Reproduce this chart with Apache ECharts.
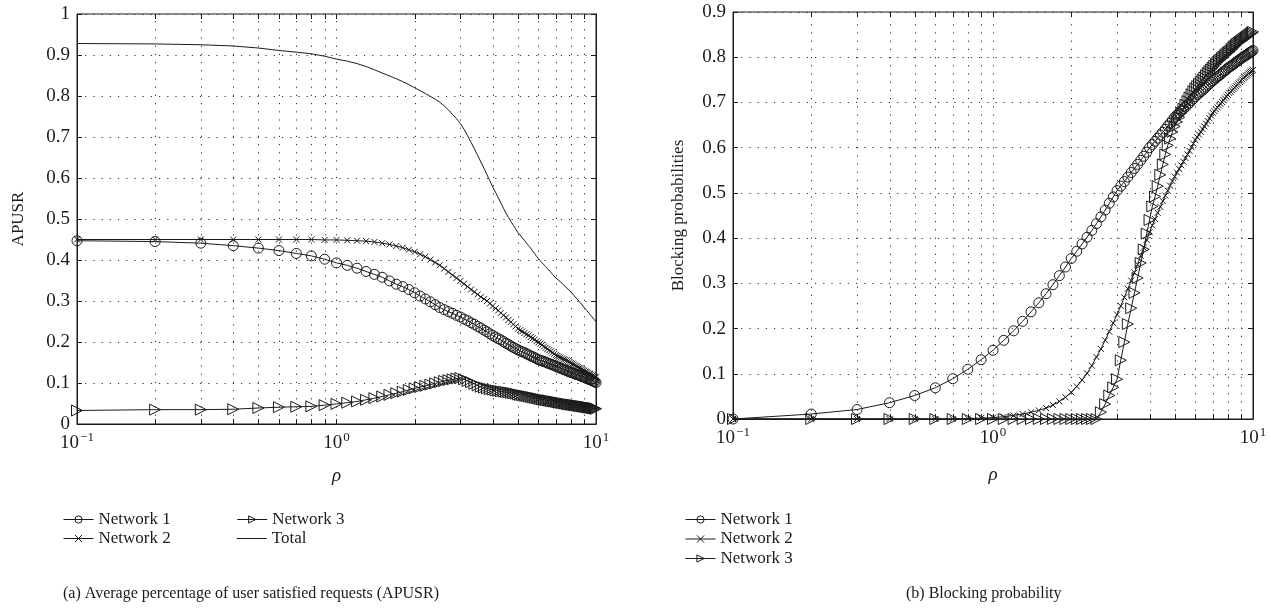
<!DOCTYPE html>
<html>
<head>
<meta charset="utf-8">
<script src="https://cdn.jsdelivr.net/npm/echarts@6/dist/echarts.min.js"></script>
<style>
  html, body { margin: 0; padding: 0; background: #fff; }
  #chart { width: 1271px; height: 615px; }
</style>
</head>
<body>
<div id="chart"></div>
<script>
// Traffic load values (rho) shared by every curve
const rho = [
  0.1, 0.2, 0.3, 0.4, 0.5, 0.6, 0.7, 0.8, 0.9, 1.0,
  1.1, 1.2, 1.3, 1.4, 1.5, 1.6, 1.7, 1.8, 1.9, 2.0,
  2.1, 2.2, 2.3, 2.4, 2.5, 2.6, 2.7, 2.8, 2.9, 3.0,
  3.1, 3.2, 3.3, 3.4, 3.5, 3.6, 3.7, 3.8, 3.9, 4.0,
  4.1, 4.2, 4.3, 4.4, 4.5, 4.6, 4.7, 4.8, 4.9, 5.0,
  5.1, 5.2, 5.3, 5.4, 5.5, 5.6, 5.7, 5.8, 5.9, 6.0,
  6.1, 6.2, 6.3, 6.4, 6.5, 6.6, 6.7, 6.8, 6.9, 7.0,
  7.1, 7.2, 7.3, 7.4, 7.5, 7.6, 7.7, 7.8, 7.9, 8.0,
  8.1, 8.2, 8.3, 8.4, 8.5, 8.6, 8.7, 8.8, 8.9, 9.0,
  9.1, 9.2, 9.3, 9.4, 9.5, 9.6, 9.7, 9.8, 9.9, 10.0
];

// (a) APUSR per network and in total
const apusrNet1 = [
  0.447, 0.445, 0.441, 0.435, 0.429, 0.423, 0.416, 0.410, 0.402, 0.393,
  0.387, 0.380, 0.372, 0.365, 0.358, 0.349, 0.341, 0.335, 0.328, 0.320,
  0.312, 0.305, 0.298, 0.291, 0.284, 0.279, 0.274, 0.270, 0.265, 0.261,
  0.256, 0.252, 0.247, 0.243, 0.238, 0.234, 0.229, 0.225, 0.220, 0.216,
  0.212, 0.208, 0.205, 0.201, 0.197, 0.194, 0.190, 0.187, 0.184, 0.181,
  0.178, 0.176, 0.174, 0.171, 0.169, 0.166, 0.164, 0.162, 0.159, 0.157,
  0.155, 0.154, 0.152, 0.151, 0.149, 0.147, 0.146, 0.144, 0.143, 0.141,
  0.139, 0.138, 0.136, 0.135, 0.133, 0.132, 0.130, 0.129, 0.127, 0.126,
  0.125, 0.124, 0.122, 0.121, 0.120, 0.119, 0.118, 0.116, 0.115, 0.114,
  0.113, 0.111, 0.110, 0.109, 0.108, 0.107, 0.105, 0.104, 0.103, 0.101
];
const apusrNet2 = [
  0.450, 0.450, 0.450, 0.450, 0.450, 0.450, 0.450, 0.450, 0.449, 0.449,
  0.448, 0.447, 0.446, 0.444, 0.441, 0.438, 0.434, 0.430, 0.425, 0.420,
  0.414, 0.408, 0.401, 0.394, 0.387, 0.379, 0.371, 0.363, 0.356, 0.349,
  0.342, 0.335, 0.328, 0.322, 0.316, 0.310, 0.305, 0.300, 0.294, 0.288,
  0.282, 0.277, 0.271, 0.265, 0.260, 0.254, 0.249, 0.243, 0.238, 0.232,
  0.229, 0.226, 0.222, 0.219, 0.216, 0.212, 0.209, 0.206, 0.202, 0.199,
  0.196, 0.193, 0.189, 0.186, 0.183, 0.180, 0.177, 0.174, 0.171, 0.168,
  0.166, 0.164, 0.162, 0.160, 0.158, 0.157, 0.155, 0.153, 0.151, 0.149,
  0.147, 0.145, 0.143, 0.141, 0.139, 0.137, 0.136, 0.134, 0.132, 0.130,
  0.128, 0.127, 0.125, 0.123, 0.122, 0.120, 0.118, 0.117, 0.115, 0.114
];
const apusrNet3 = [
  0.033, 0.035, 0.035, 0.036, 0.039, 0.041, 0.042, 0.043, 0.046, 0.049,
  0.052, 0.055, 0.059, 0.063, 0.067, 0.071, 0.075, 0.079, 0.083, 0.087,
  0.090, 0.093, 0.096, 0.099, 0.102, 0.105, 0.107, 0.109, 0.111, 0.112,
  0.109, 0.105, 0.102, 0.098, 0.094, 0.091, 0.089, 0.087, 0.085, 0.084,
  0.082, 0.081, 0.080, 0.079, 0.078, 0.077, 0.076, 0.075, 0.074, 0.072,
  0.071, 0.070, 0.069, 0.068, 0.067, 0.066, 0.065, 0.064, 0.063, 0.062,
  0.061, 0.060, 0.059, 0.058, 0.058, 0.057, 0.056, 0.055, 0.055, 0.054,
  0.053, 0.052, 0.052, 0.051, 0.050, 0.050, 0.049, 0.048, 0.048, 0.047,
  0.047, 0.046, 0.046, 0.045, 0.045, 0.044, 0.044, 0.043, 0.043, 0.042,
  0.042, 0.041, 0.041, 0.040, 0.040, 0.039, 0.039, 0.038, 0.038, 0.037
];
const apusrTotal = [
  0.928, 0.927, 0.925, 0.922, 0.917, 0.911, 0.907, 0.903, 0.897, 0.890,
  0.885, 0.879, 0.872, 0.864, 0.856, 0.849, 0.842, 0.835, 0.828, 0.820,
  0.813, 0.806, 0.799, 0.792, 0.785, 0.776, 0.766, 0.755, 0.745, 0.733,
  0.719, 0.703, 0.687, 0.671, 0.655, 0.639, 0.624, 0.608, 0.593, 0.578,
  0.565, 0.552, 0.539, 0.526, 0.514, 0.504, 0.494, 0.485, 0.476, 0.467,
  0.461, 0.454, 0.448, 0.441, 0.435, 0.429, 0.422, 0.416, 0.409, 0.403,
  0.398, 0.393, 0.389, 0.384, 0.379, 0.375, 0.370, 0.365, 0.361, 0.356,
  0.353, 0.350, 0.346, 0.343, 0.340, 0.336, 0.333, 0.329, 0.326, 0.322,
  0.318, 0.314, 0.311, 0.307, 0.303, 0.299, 0.295, 0.292, 0.288, 0.284,
  0.280, 0.277, 0.273, 0.270, 0.266, 0.263, 0.259, 0.256, 0.252, 0.249
];

// (b) Blocking probability per network
const blockNet1 = [
  0.000, 0.011, 0.021, 0.036, 0.052, 0.069, 0.089, 0.110, 0.131, 0.152,
  0.174, 0.195, 0.216, 0.237, 0.257, 0.277, 0.297, 0.317, 0.336, 0.355,
  0.371, 0.387, 0.402, 0.417, 0.432, 0.447, 0.462, 0.477, 0.491, 0.505,
  0.515, 0.525, 0.535, 0.545, 0.554, 0.563, 0.572, 0.581, 0.590, 0.600,
  0.607, 0.614, 0.621, 0.628, 0.634, 0.641, 0.648, 0.654, 0.661, 0.667,
  0.672, 0.677, 0.681, 0.686, 0.690, 0.695, 0.699, 0.704, 0.708, 0.713,
  0.717, 0.720, 0.724, 0.727, 0.731, 0.734, 0.738, 0.741, 0.745, 0.748,
  0.751, 0.754, 0.757, 0.759, 0.762, 0.765, 0.768, 0.770, 0.773, 0.776,
  0.778, 0.780, 0.782, 0.784, 0.786, 0.789, 0.791, 0.793, 0.795, 0.797,
  0.799, 0.801, 0.803, 0.804, 0.806, 0.808, 0.810, 0.811, 0.813, 0.815
];
const blockNet2 = [
  0.000, 0.000, 0.000, 0.000, 0.000, 0.000, 0.000, 0.001, 0.002, 0.003,
  0.005, 0.008, 0.011, 0.015, 0.019, 0.024, 0.031, 0.039, 0.048, 0.059,
  0.072, 0.086, 0.101, 0.118, 0.137, 0.155, 0.174, 0.193, 0.212, 0.231,
  0.250, 0.269, 0.288, 0.306, 0.324, 0.342, 0.361, 0.379, 0.396, 0.413,
  0.428, 0.442, 0.456, 0.469, 0.482, 0.494, 0.505, 0.516, 0.526, 0.536,
  0.545, 0.553, 0.561, 0.569, 0.577, 0.585, 0.593, 0.601, 0.609, 0.617,
  0.623, 0.629, 0.635, 0.641, 0.647, 0.653, 0.659, 0.665, 0.671, 0.677,
  0.681, 0.685, 0.689, 0.693, 0.697, 0.701, 0.705, 0.709, 0.713, 0.717,
  0.721, 0.724, 0.727, 0.730, 0.733, 0.736, 0.739, 0.742, 0.745, 0.748,
  0.751, 0.754, 0.756, 0.759, 0.761, 0.764, 0.766, 0.768, 0.770, 0.772
];
const blockNet3 = [
  0.000, 0.000, 0.000, 0.000, 0.000, 0.000, 0.000, 0.000, 0.000, 0.000,
  0.000, 0.000, 0.000, 0.000, 0.000, 0.000, 0.000, 0.000, 0.000, 0.000,
  0.000, 0.000, 0.000, 0.000, 0.000, 0.015, 0.033, 0.052, 0.070, 0.088,
  0.130, 0.170, 0.210, 0.245, 0.279, 0.312, 0.345, 0.375, 0.410, 0.440,
  0.470, 0.492, 0.515, 0.540, 0.563, 0.585, 0.605, 0.620, 0.635, 0.647,
  0.657, 0.667, 0.677, 0.686, 0.695, 0.703, 0.711, 0.718, 0.725, 0.731,
  0.736, 0.741, 0.746, 0.750, 0.755, 0.760, 0.765, 0.769, 0.773, 0.777,
  0.781, 0.785, 0.789, 0.792, 0.795, 0.798, 0.801, 0.804, 0.807, 0.810,
  0.812, 0.815, 0.818, 0.821, 0.824, 0.827, 0.830, 0.832, 0.834, 0.836,
  0.838, 0.840, 0.842, 0.844, 0.846, 0.848, 0.850, 0.852, 0.854, 0.856
];

// Positions of the log-decade grid lines and ticks on the rho axis
const rhoGridTicks = [
  0.1, 0.2, 0.3, 0.4, 0.5, 0.6, 0.7, 0.8, 0.9,
  1, 2, 3, 4, 5, 6, 7, 8, 9, 10
];

const FONT = '"Liberation Serif", "DejaVu Serif", serif';
const INK = '#1b1b1b';

const pairs = ys => rho.map((r, i) => [r, ys[i]]);

const markerStyle = { color: 'rgba(0,0,0,0)', borderColor: INK, borderWidth: 1 };
const lineStyle = { color: INK, width: 1 };
const crossPath = 'path://M0,0L10,10M10,0L0,10';

function curve(name, ys, grid, symbol, size, extra) {
  return Object.assign({
    name: name,
    type: 'line',
    xAxisIndex: grid,
    yAxisIndex: grid * 2,
    data: pairs(ys),
    symbol: symbol,
    symbolSize: size,
    showSymbol: symbol !== 'none',
    lineStyle: lineStyle,
    itemStyle: markerStyle,
    emphasis: { disabled: true },
    animation: false,
    z: 3
  }, extra || {});
}

// Dotted vertical grid lines with short inward ticks at bottom and top
function rhoGrid(yMin, yMax) {
  return function (params, api) {
    const x = api.value(0);
    const b = api.coord([x, yMin]);
    const t = api.coord([x, yMax]);
    const px = Math.round(b[0]) + 0.5;
    const kids = [
      { type: 'line', shape: { x1: px, y1: b[1], x2: px, y2: b[1] - 5 }, style: { stroke: INK, lineWidth: 1 } },
      { type: 'line', shape: { x1: px, y1: t[1], x2: px, y2: t[1] + 5 }, style: { stroke: INK, lineWidth: 1 } }
    ];
    if (x > 0.1 && x < 10) {
      kids.unshift({ type: 'line', shape: { x1: px, y1: b[1], x2: px, y2: t[1] },
        style: { stroke: '#333', lineWidth: 1, lineDash: [1.2, 7] } });
    }
    return { type: 'group', children: kids };
  };
}

const tickLabel = { fontFamily: FONT, fontSize: 19, color: INK };

function rhoAxis(gridIndex, nameGap) {
  return {
    type: 'log', logBase: 10, min: 0.1, max: 10, gridIndex: gridIndex,
    name: 'ρ', nameLocation: 'middle', nameGap: nameGap,
    nameTextStyle: { fontFamily: FONT, fontSize: 19, fontStyle: 'italic', color: INK },
    axisLine: { lineStyle: { color: INK, width: 1 } },
    axisTick: { show: false },
    splitLine: { show: false },
    axisLabel: {
      margin: 7,
      formatter: v => {
        const e = Math.round(Math.log10(v));
        return '{b|10}{s|' + (e < 0 ? '\u2212' + (-e) : e) + '}';
      },
      rich: {
        b: { fontFamily: FONT, fontSize: 19, color: INK, lineHeight: 22, verticalAlign: 'bottom' },
        s: { fontFamily: FONT, fontSize: 13, color: INK, lineHeight: 22, verticalAlign: 'top', padding: [0, 0, 9, 1] }
      }
    }
  };
}

function valueAxis(gridIndex, max, name, nameGap) {
  return {
    type: 'value', gridIndex: gridIndex, min: 0, max: max, interval: 0.1,
    name: name, nameLocation: 'middle', nameGap: nameGap, nameRotate: 90,
    nameTextStyle: { fontFamily: FONT, fontSize: 17, color: INK },
    axisLine: { show: true, lineStyle: { color: INK, width: 1 } },
    axisTick: { show: true, inside: true, length: 5, lineStyle: { color: INK } },
    splitLine: { show: true, lineStyle: { color: '#333', width: 1, type: [1.2, 7] } },
    axisLabel: Object.assign({ margin: 7, formatter: v => String(+v.toFixed(1)) }, tickLabel)
  };
}

function mirrorAxis(gridIndex, max) {
  return {
    type: 'value', gridIndex: gridIndex, min: 0, max: max, interval: 0.1, position: 'right',
    axisLine: { show: true, lineStyle: { color: INK, width: 1 } },
    axisTick: { show: true, inside: true, length: 5, lineStyle: { color: INK } },
    axisLabel: { show: false },
    splitLine: { show: false }
  };
}

const legendBase = {
  itemWidth: 30, itemHeight: 9, selectedMode: false,
  textStyle: { fontFamily: FONT, fontSize: 17, color: INK },
  itemStyle: { color: 'rgba(0,0,0,0)', borderColor: INK, borderWidth: 1 },
  lineStyle: { color: INK, width: 1 }
};
const totalLegendItem = {
  name: 'Total', icon: 'path://M0,0H30V1H0Z',
  itemStyle: { color: INK, borderWidth: 0 }
};

const option = {
  backgroundColor: '#fff',
  animation: false,
  grid: [
    { left: 77, top: 14, width: 519, height: 410, show: true, borderColor: INK, borderWidth: 1 },
    { left: 733, top: 12, width: 520, height: 407, show: true, borderColor: INK, borderWidth: 1 }
  ],
  xAxis: [rhoAxis(0, 42), rhoAxis(1, 46)],
  yAxis: [
    valueAxis(0, 1, 'APUSR', 50),
    mirrorAxis(0, 1),
    valueAxis(1, 0.9, 'Blocking probabilities', 46),
    mirrorAxis(1, 0.9)
  ],
  legend: [
    Object.assign({ data: ['Network 1', 'Network 3'], left: 58, top: 506, itemGap: 66 }, legendBase),
    Object.assign({ data: ['Network 2', totalLegendItem], left: 58, top: 525, itemGap: 66 }, legendBase),
    Object.assign({ data: ['Network 1', 'Network 2', 'Network 3'], orient: 'vertical',
      left: 680, top: 506, itemGap: 2.5 }, legendBase)
  ],
  graphic: [
    { type: 'text', left: 63, top: 586,
      style: { text: '(a) Average percentage of user satisfied requests (APUSR)', font: '16px ' + FONT, fill: INK } },
    { type: 'text', left: 906, top: 586,
      style: { text: '(b) Blocking probability', font: '16px ' + FONT, fill: INK } }
  ],
  series: [
    { type: 'custom', xAxisIndex: 0, yAxisIndex: 0, renderItem: rhoGrid(0, 1),
      data: rhoGridTicks.map(v => [v, 0]), silent: true, z: 1 },
    { type: 'custom', xAxisIndex: 1, yAxisIndex: 2, renderItem: rhoGrid(0, 0.9),
      data: rhoGridTicks.map(v => [v, 0]), silent: true, z: 1 },

    curve('Network 1', apusrNet1, 0, 'circle', 10),
    curve('Network 2', apusrNet2, 0, crossPath, 6),
    curve('Network 3', apusrNet3, 0, 'triangle', 11, { symbolRotate: -90 }),
    curve('Total', apusrTotal, 0, 'none', 0),

    curve('Network 1', blockNet1, 1, 'circle', 10),
    curve('Network 2', blockNet2, 1, crossPath, 6),
    curve('Network 3', blockNet3, 1, 'triangle', 11, { symbolRotate: -90 })
  ]
};

const chart = echarts.init(document.getElementById('chart'), null, { renderer: 'canvas' });
chart.setOption(option);
</script>
</body>
</html>
